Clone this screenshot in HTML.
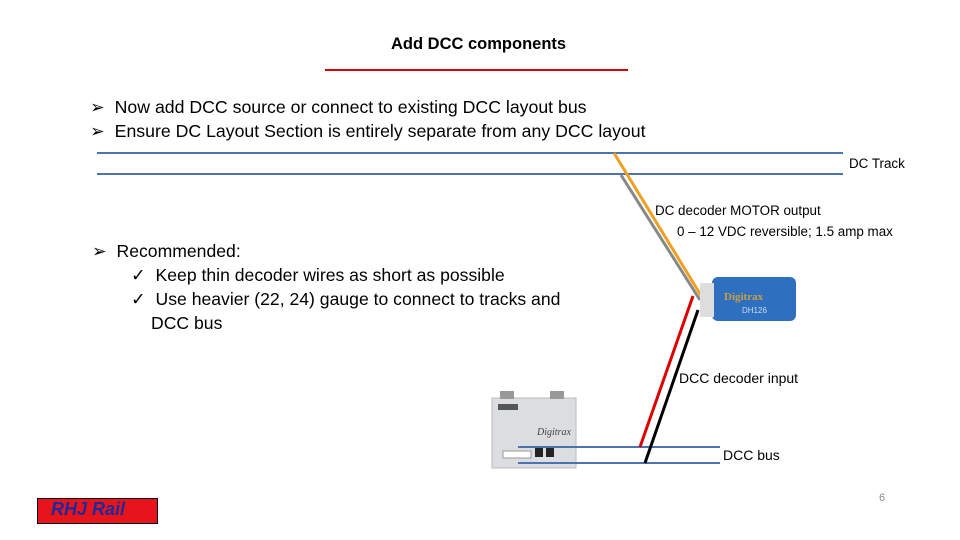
<!DOCTYPE html>
<html><head><style>
body{margin:0;width:960px;height:540px;background:#fff;position:relative;overflow:hidden;font-family:"Liberation Sans",sans-serif;}
.t{position:absolute;color:#000;white-space:nowrap;}
</style></head><body>
<div class="t" style="left:391px;top:35px;font-size:16.5px;font-weight:bold;">Add DCC components</div>
<div style="position:absolute;left:325px;top:69px;width:303px;height:2px;background:#d00;"></div>
<div class="t" style="left:90px;top:97px;font-size:17.7px;">➢&nbsp; Now add DCC source or connect to existing DCC layout bus</div>
<div class="t" style="left:90px;top:121px;font-size:17.7px;">➢&nbsp; Ensure DC Layout Section is entirely separate from any DCC layout</div>
<div class="t" style="left:92px;top:241px;font-size:17.6px;">➢&nbsp; Recommended:</div>
<div class="t" style="left:131px;top:265px;font-size:17.6px;">✓&nbsp; Keep thin decoder wires as short as possible</div>
<div class="t" style="left:131px;top:289px;font-size:17.6px;">✓&nbsp; Use heavier (22, 24) gauge to connect to tracks and</div>
<div class="t" style="left:151px;top:313px;font-size:17.6px;">DCC bus</div>
<div class="t" style="left:849px;top:156px;font-size:13.4px;">DC Track</div>
<div class="t" style="left:655px;top:203px;font-size:13.4px;">DC decoder MOTOR output</div>
<div class="t" style="left:677px;top:224px;font-size:13.4px;">0 – 12 VDC reversible; 1.5 amp max</div>
<div class="t" style="left:679px;top:370px;font-size:14px;">DCC decoder input</div>
<div class="t" style="left:723px;top:447px;font-size:14px;">DCC bus</div>
<div class="t" style="left:879px;top:492px;font-size:11px;color:#888;">6</div>
<svg width="960" height="540" style="position:absolute;left:0;top:0">
<line x1="97" y1="153" x2="843" y2="153" stroke="#4a73b0" stroke-width="2"/>
<line x1="97" y1="174" x2="843" y2="174" stroke="#4a73b0" stroke-width="2"/>
<line x1="614" y1="153" x2="705" y2="302" stroke="#f0a020" stroke-width="3"/>
<line x1="621" y1="175" x2="700" y2="300" stroke="#888" stroke-width="3"/>
<rect x="492" y="398" width="84" height="70" fill="#dcdde0" stroke="#bbb"/>
<rect x="500" y="391" width="14" height="8" fill="#999"/><rect x="550" y="391" width="14" height="8" fill="#999"/>
<rect x="498" y="404" width="20" height="6" fill="#555"/>
<text x="537" y="435" font-size="10" font-style="italic" fill="#444" font-family="Liberation Serif">Digitrax</text>
<rect x="535" y="447" width="8" height="10" fill="#222"/><rect x="546" y="447" width="8" height="10" fill="#222"/>
<rect x="503" y="451" width="28" height="7" fill="#fff" stroke="#999"/>
<line x1="518" y1="447" x2="720" y2="447" stroke="#4a73b0" stroke-width="2"/>
<line x1="518" y1="463" x2="720" y2="463" stroke="#4a73b0" stroke-width="2"/>
<line x1="640" y1="447" x2="693" y2="296" stroke="#d00" stroke-width="3"/>
<line x1="645" y1="463" x2="698" y2="310" stroke="#000" stroke-width="3"/>
<rect x="712" y="277" width="84" height="44" rx="6" fill="#2f6fc0"/>
<rect x="700" y="283" width="14" height="34" fill="#ddd"/>
<text x="724" y="300" font-size="11" font-weight="bold" fill="#c8a040" font-family="Liberation Serif">Digitrax</text>
<text x="742" y="313" font-size="8" fill="#cde">DH126</text>
</svg>
<div style="position:absolute;left:37px;top:498px;width:119px;height:24px;background:#e8141c;border:1px solid #000;"></div>
<div class="t" style="left:51px;top:499px;font-size:18px;font-weight:bold;font-style:italic;color:#1a2a9a;">RHJ Rail</div>
</body></html>
